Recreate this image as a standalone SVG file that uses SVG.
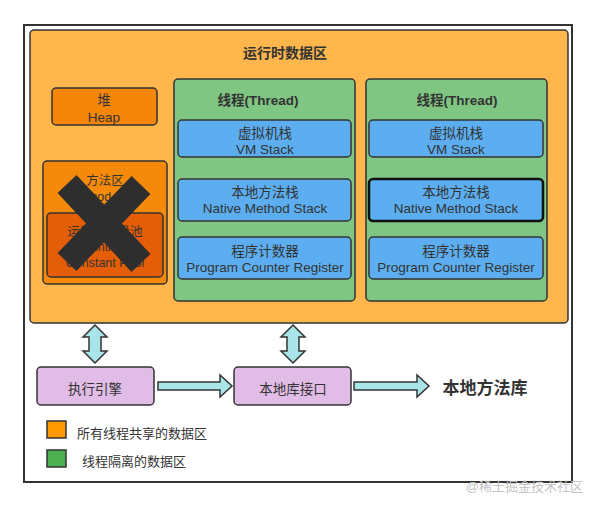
<svg xmlns="http://www.w3.org/2000/svg" width="598" height="507" viewBox="0 0 598 507">
<defs>
<style>
text{font-family:"Liberation Sans","Noto Sans CJK SC",sans-serif;font-size:13.5px;fill:#333;text-anchor:middle}
.b{font-weight:bold}
.m{font-size:12.5px}
.box{stroke:#333;stroke-width:1.5}
.blue{fill:#5CAEF0;stroke:#333;stroke-width:1.5}
.green{fill:#80C683;stroke:#333;stroke-width:1.5}
.purple{fill:#E0BCE6;stroke:#333;stroke-width:1.5}
.arr{fill:#A9E4E8;stroke:#333;stroke-width:1.5;stroke-linejoin:miter}
.lg{text-anchor:start;font-size:13px}
</style>
</defs>
<rect x="0" y="0" width="598" height="507" fill="#fff"/>
<rect id="frame" x="24" y="25" width="548" height="457" fill="#fff" stroke="#333" stroke-width="2"/>
<g id="runtime">
<rect x="30" y="30" width="538" height="293" rx="4" fill="#FFB74D" class="box"/>
<text x="285" y="58" class="b" style="font-size:14px">运行时数据区</text>
</g>
<g id="heap">
<rect x="52" y="88" width="105" height="37" rx="4" fill="#F5860A" class="box"/>
<text x="104" y="104.5">堆</text>
<text x="104" y="121.5">Heap</text>
</g>
<g id="method">
<rect x="43" y="161" width="124" height="123" rx="4" fill="#F58A0A" class="box"/>
<text x="105" y="184.5" class="m">方法区</text>
<text x="105" y="200.5" class="m">Method Area</text>
<rect x="47" y="213" width="116" height="64" rx="4" fill="#E35E06" class="box"/>
<text x="105" y="235.5" class="m">运行时常量池</text>
<text x="105" y="251" class="m">Runtime</text>
<text x="105" y="266.5" class="m">Constant Pool</text>
<path d="M67,184 L141,263 M141,185 L67,262" stroke="#2E2E2E" stroke-width="26" fill="none"/>
</g>
<g id="thread1">
<rect x="174" y="79" width="181" height="222" rx="4" class="green"/>
<text x="258" y="104.5" class="b">线程(Thread)</text>
<rect x="178" y="120" width="173" height="37" rx="4" class="blue"/>
<text x="265" y="137.5">虚拟机栈</text>
<text x="265" y="153.5">VM Stack</text>
<rect x="178" y="179" width="173" height="42" rx="4" class="blue"/>
<text x="265" y="196.5">本地方法栈</text>
<text x="265" y="212.5">Native Method Stack</text>
<rect x="178" y="237" width="173" height="42" rx="4" class="blue"/>
<text x="265" y="255.5">程序计数器</text>
<text x="265" y="271.5">Program Counter Register</text>
</g>
<g id="thread2">
<rect x="366" y="79" width="181" height="222" rx="4" class="green"/>
<text x="457" y="104.5" class="b">线程(Thread)</text>
<rect x="369" y="120" width="174" height="37" rx="4" class="blue"/>
<text x="456" y="137.5">虚拟机栈</text>
<text x="456" y="153.5">VM Stack</text>
<rect x="369" y="179" width="174" height="42" rx="4" class="blue" style="stroke:#111;stroke-width:2.5"/>
<text x="456" y="196.5">本地方法栈</text>
<text x="456" y="212.5">Native Method Stack</text>
<rect x="369" y="237" width="174" height="42" rx="4" class="blue"/>
<text x="456" y="255.5">程序计数器</text>
<text x="456" y="271.5">Program Counter Register</text>
</g>
<g id="engine">
<rect x="37" y="367" width="117" height="38" rx="4" class="purple"/>
<text x="95" y="393.5">执行引擎</text>
</g>
<g id="jni">
<rect x="234" y="367" width="117" height="38" rx="4" class="purple"/>
<text x="293" y="393.5">本地库接口</text>
</g>
<g id="nativelib">
<text x="485" y="394" class="b" style="font-size:17px">本地方法库</text>
</g>
<g id="connectors">
<path class="arr" d="M95,325 L107,337 L101,337 L101,351 L107,351 L95,363 L83,351 L89,351 L89,337 L83,337 Z"/>
<path class="arr" d="M293,325 L305,337 L299,337 L299,351 L305,351 L293,363 L281,351 L287,351 L287,337 L281,337 Z"/>
<path class="arr" d="M158,382 L220,382 L220,375 L232,386 L220,397 L220,390 L158,390 Z"/>
<path class="arr" d="M354,382 L417,382 L417,375 L429,386 L417,397 L417,390 L354,390 Z"/>
</g>
<g id="legend">
<rect x="47" y="421" width="19" height="17" fill="#FF9A00" stroke="#333" stroke-width="1.5"/>
<text x="77" y="437.5" class="lg">所有线程共享的数据区</text>
<rect x="47" y="450" width="19" height="17" fill="#4CAF50" stroke="#333" stroke-width="1.5"/>
<text x="82" y="465.5" class="lg">线程隔离的数据区</text>
</g>
<text x="583" y="491" style="text-anchor:end;fill:#c4c4c4;font-size:13px">@稀土掘金技术社区</text>
</svg>
